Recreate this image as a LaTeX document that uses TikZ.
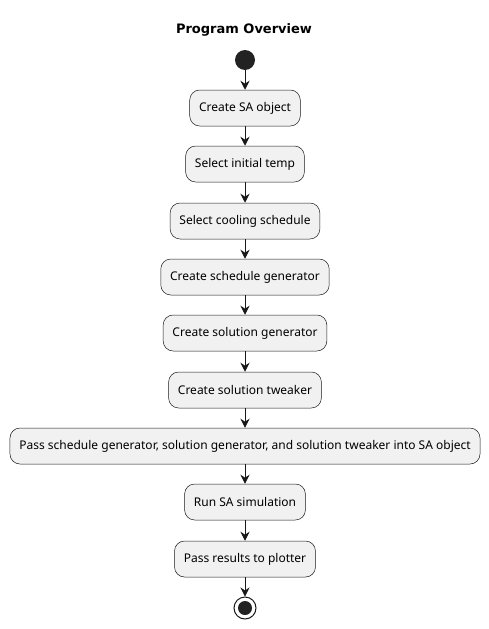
\documentclass[tikz,border=0pt]{standalone}
\usepackage{fontspec}
\setmainfont{Noto Sans}
\newfontfamily\titlefont{DejaVu Sans}
\usetikzlibrary{arrows.meta}
\definecolor{boxfill}{HTML}{F1F1F1}
\definecolor{umlline}{HTML}{181818}
\definecolor{umldot}{HTML}{222222}

\tikzset{
  act/.style={draw=umlline, fill=boxfill, line width=0.5pt, rounded corners=10pt,
    minimum height=36pt, inner xsep=9.3pt, font=\fontsize{12}{14}\selectfont},
  flow/.style={draw=umlline, line width=0.9pt, -{Stealth[length=9pt,width=9pt,inset=3pt]}}
}

\begin{document}
\begin{tikzpicture}[x=1pt,y=-1pt]
            \useasboundingbox (0,0) rectangle (489,629);
            \node[font=\titlefont\bfseries\fontsize{13}{15}\selectfont] (title) at (244,30) {Program Overview};
            \node[circle, fill=umldot, minimum size=20pt, inner sep=0pt] (start) at (245,60) {};
            \node[act] (sa) at (245,108) {Create SA object};
            \node[act] (temp) at (245,164) {Select initial temp};
            \node[act] (cool) at (245,221) {Select cooling schedule};
            \node[act] (schedgen) at (245,277) {Create schedule generator};
            \node[act] (solgen) at (245,333) {Create solution generator};
            \node[act] (tweak) at (245,390) {Create solution tweaker};
            \node[act] (pass) at (245,446) {Pass schedule generator, solution generator, and solution tweaker into SA object};
            \node[act] (run) at (245,502) {Run SA simulation};
            \node[act] (plot) at (245,559) {Pass results to plotter};
            \node[circle, draw=umlline, line width=1pt, fill=white, minimum size=22pt, inner sep=0pt] (stop) at (245,608) {};
            \node[circle, fill=umldot, minimum size=14pt, inner sep=0pt] at (stop) {};

            \draw[flow] (start) -- (sa);
            \draw[flow] (sa) -- (temp);
            \draw[flow] (temp) -- (cool);
            \draw[flow] (cool) -- (schedgen);
            \draw[flow] (schedgen) -- (solgen);
            \draw[flow] (solgen) -- (tweak);
            \draw[flow] (tweak) -- (pass);
            \draw[flow] (pass) -- (run);
            \draw[flow] (run) -- (plot);
            \draw[flow] (plot) -- (stop);
        \end{tikzpicture}
\end{document}
